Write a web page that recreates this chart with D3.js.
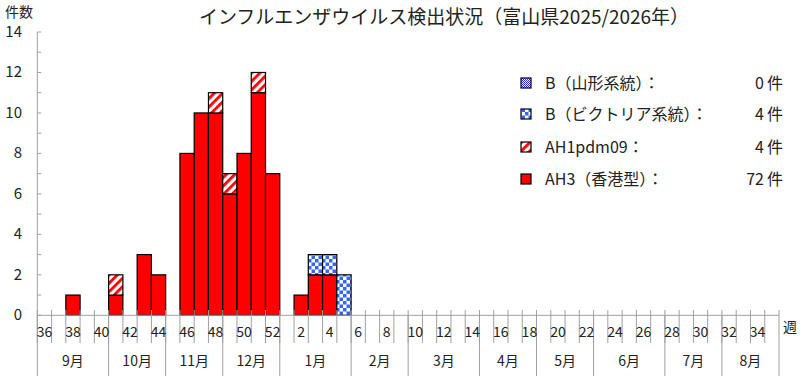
<!DOCTYPE html>
<html><head><meta charset="utf-8">
<script src="https://cdn.jsdelivr.net/npm/d3@7"></script>
<style>
html,body{margin:0;padding:0;background:#fff;}
text{font-family:"Noto Sans CJK JP","Noto Sans",sans-serif;fill:#222;}
</style></head>
<body><svg id="c" width="800" height="376"></svg>
<script>
// ---- data ----
const weeks = [36,37,38,39,40,41,42,43,44,45,46,47,48,49,50,51,52,1,2,3,4,5,6,7,8,9,10,11,12,13,14,15,16,17,18,19,20,21,22,23,24,25,26,27,28,29,30,31,32,33,34,35];
const ah3   = [0,0,1,0,0,1,0,3,2,0,8,10,10,6,8,11,7,0,1,2,2,0,0,0,0,0,0,0,0,0,0,0,0,0,0,0,0,0,0,0,0,0,0,0,0,0,0,0,0,0,0,0];
const ah1   = [0,0,0,0,0,1,0,0,0,0,0,0,1,1,0,1,0,0,0,0,0,0,0,0,0,0,0,0,0,0,0,0,0,0,0,0,0,0,0,0,0,0,0,0,0,0,0,0,0,0,0,0];
const bVic  = [0,0,0,0,0,0,0,0,0,0,0,0,0,0,0,0,0,0,0,1,1,2,0,0,0,0,0,0,0,0,0,0,0,0,0,0,0,0,0,0,0,0,0,0,0,0,0,0,0,0,0,0];
const bYam  = [0,0,0,0,0,0,0,0,0,0,0,0,0,0,0,0,0,0,0,0,0,0,0,0,0,0,0,0,0,0,0,0,0,0,0,0,0,0,0,0,0,0,0,0,0,0,0,0,0,0,0,0];
const weekLabels = [36,38,40,42,44,46,48,50,52,2,4,6,8,10,12,14,16,18,20,22,24,26,28,30,32,34];
const months = ["9月","10月","11月","12月","1月","2月","3月","4月","5月","6月","7月","8月"];
const monthStartWeeks = [36,41,45,49,1,6,10,15,19,23,28,32];
const yTicks = [0,1,2,3,4,5,6,7,8,9,10,11,12,13,14];
const yLabels = [0,2,4,6,8,10,12,14];
const seriesNames = ["B（山形系統）：","B（ビクトリア系統）：","AH1pdm09：","AH3（香港型）："];
const title = "インフルエンザウイルス検出状況（富山県2025/2026年）";

// ---- drawing ----
const svg = d3.select("#c");
const L = 37.3, R = 779, Y0 = 315.3, Y14 = 32;
const x = d3.scaleBand().domain(weeks).range([L, R]).padding(0);
const y = d3.scaleLinear().domain([0,14]).range([Y0, Y14]);
const axisColor = "#a0a0a0";

const defs = svg.append("defs");
const pY = defs.append("pattern").attr("id","pYam").attr("patternUnits","userSpaceOnUse").attr("width",2).attr("height",2);
pY.append("rect").attr("width",2).attr("height",2).attr("fill","#fff");
pY.append("rect").attr("width",1).attr("height",1).attr("fill","#1f2bff");
pY.append("rect").attr("x",1).attr("y",1).attr("width",1).attr("height",1).attr("fill","#1f2bff");
const pV = defs.append("pattern").attr("id","pVic").attr("patternUnits","userSpaceOnUse").attr("width",7).attr("height",7);
pV.append("rect").attr("width",7).attr("height",7).attr("fill","#fff");
pV.append("rect").attr("width",3.5).attr("height",3.5).attr("fill","#3366ff");
pV.append("rect").attr("x",3.5).attr("y",3.5).attr("width",3.5).attr("height",3.5).attr("fill","#3366ff");
const pA = defs.append("pattern").attr("id","pAH1").attr("patternUnits","userSpaceOnUse").attr("width",6).attr("height",6).attr("patternTransform","rotate(45)");
pA.append("rect").attr("width",6).attr("height",6).attr("fill","#fff");
pA.append("rect").attr("width",2.8).attr("height",6).attr("fill","#ff0000");

const fills = ["url(#pYam)","url(#pVic)","url(#pAH1)","#ff0000"];

// title
svg.append("text").attr("x",444).attr("y",24).attr("text-anchor","middle")
  .style("font-size","19px").text(title);
svg.append("text").attr("x",5).attr("y",17).style("font-size","14px").text("件数");

// y axis
svg.append("line").attr("x1",L).attr("x2",L).attr("y1",Y14).attr("y2",Y0).attr("stroke",axisColor);
svg.selectAll(".yt").data(yTicks).join("line").attr("x1",L).attr("x2",L+4)
  .attr("y1",d=>y(d)).attr("y2",d=>y(d)).attr("stroke",axisColor);
svg.selectAll(".yl").data(yLabels).join("text").attr("x",22).attr("y",d=>y(d)+5)
  .attr("text-anchor","end").style("font-size","15px").text(d=>d);

// bars (stacked: AH3, AH1, BVic, BYam)
const stackOrder = [ah3, ah1, bVic, bYam];
const stackFills = ["#ff0000","url(#pAH1)","url(#pVic)","url(#pYam)"];
weeks.forEach((w,i)=>{
  let base = 0;
  stackOrder.forEach((arr,k)=>{
    const v = arr[i];
    if(v>0){
      svg.append("rect").attr("x",x(w)).attr("width",x.bandwidth())
        .attr("y",y(base+v)).attr("height",y(base)-y(base+v))
        .attr("fill",stackFills[k]).attr("stroke","#000").attr("stroke-width",1.2);
      base += v;
    }
  });
});

// x axis
svg.append("line").attr("x1",L).attr("x2",R).attr("y1",Y0).attr("y2",Y0).attr("stroke",axisColor);
svg.selectAll(".xt").data(weeks).join("line").attr("x1",d=>x(d)).attr("x2",d=>x(d))
  .attr("y1",310).attr("y2",343).attr("stroke",axisColor);
svg.append("line").attr("x1",R).attr("x2",R).attr("y1",310).attr("y2",376).attr("stroke",axisColor);
svg.selectAll(".ms").data(monthStartWeeks).join("line").attr("x1",d=>x(d)).attr("x2",d=>x(d))
  .attr("y1",Y0).attr("y2",376).attr("stroke",axisColor);
svg.selectAll(".wl").data(weekLabels).join("text").attr("x",d=>x(d)+x.bandwidth()/2).attr("y",337)
  .attr("text-anchor","middle").style("font-size","14px").text(d=>d);
months.forEach((m,i)=>{
  const s = x(monthStartWeeks[i]);
  const e = i<months.length-1 ? x(monthStartWeeks[i+1]) : R;
  svg.append("text").attr("x",(s+e)/2).attr("y",366).attr("text-anchor","middle")
    .style("font-size","14px").text(m);
});
svg.append("text").attr("x",790).attr("y",332).attr("text-anchor","middle").style("font-size","14px").text("週");

// legend
const legY = [83,114,147,179];
const legData = [bYam,bVic,ah1,ah3];
seriesNames.forEach((n,i)=>{
  svg.append("rect").attr("x",521).attr("y",legY[i]-5).attr("width",10).attr("height",10)
    .attr("fill",fills[i]).attr("stroke","#000").attr("stroke-width",1.2);
  svg.append("text").attr("x",545).attr("y",legY[i]+6).style("font-size","16px").text(n);
  svg.append("text").attr("x",764).attr("y",legY[i]+6).attr("text-anchor","end").style("font-size","16px").text(d3.sum(legData[i]));
  svg.append("text").attr("x",767).attr("y",legY[i]+6).style("font-size","16px").text("件");
});
</script></body></html>
